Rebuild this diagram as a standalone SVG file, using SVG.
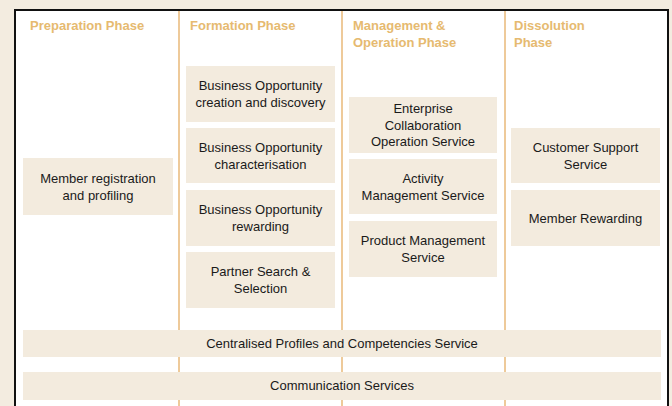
<svg xmlns="http://www.w3.org/2000/svg" width="672" height="406" viewBox="0 0 672 406">
<style>
.hdr{font-family:"Liberation Sans",Arial,sans-serif;font-size:13px;font-weight:bold;fill:#e6ba70}
.box{fill:#f3ebde}
.t{font-family:"Liberation Sans",Arial,sans-serif;font-size:13px;fill:#1a1a1a;text-anchor:middle}
.col{stroke:#e8b878;stroke-width:1.5}
</style>
<rect x="0" y="0" width="672" height="406" fill="#f3ece0"/>
<rect x="15" y="10" width="653" height="420" fill="#ffffff" stroke="#111" stroke-width="2"/>
<g id="connectors">
<line class="col" x1="179" y1="11" x2="179" y2="406"/>
<line class="col" x1="342" y1="11" x2="342" y2="406"/>
<line class="col" x1="505" y1="11" x2="505" y2="406"/>
</g>
<g id="headers">
<text class="hdr" x="30" y="30">Preparation Phase</text>
<text class="hdr" x="190" y="30">Formation Phase</text>
<text class="hdr" x="353" y="30">Management &amp;</text>
<text class="hdr" x="353" y="47">Operation Phase</text>
<text class="hdr" x="514" y="30">Dissolution</text>
<text class="hdr" x="514" y="47">Phase</text>
</g>
<g id="member-registration"><rect class="box" x="23" y="158" width="150" height="57"/><text class="t" x="98" y="183">Member registration</text><text class="t" x="98" y="200">and profiling</text></g>
<g id="bo-creation"><rect class="box" x="186" y="66" width="149" height="56"/><text class="t" x="260.5" y="90">Business Opportunity</text><text class="t" x="260.5" y="107">creation and discovery</text></g>
<g id="bo-characterisation"><rect class="box" x="186" y="128" width="149" height="55"/><text class="t" x="260.5" y="152">Business Opportunity</text><text class="t" x="260.5" y="169">characterisation</text></g>
<g id="bo-rewarding"><rect class="box" x="186" y="190" width="149" height="56"/><text class="t" x="260.5" y="214">Business Opportunity</text><text class="t" x="260.5" y="231">rewarding</text></g>
<g id="partner-search"><rect class="box" x="186" y="252" width="149" height="56"/><text class="t" x="260.5" y="276">Partner Search &amp;</text><text class="t" x="260.5" y="293">Selection</text></g>
<g id="enterprise-collab"><rect class="box" x="349" y="97" width="148" height="56"/><text class="t" x="423" y="113">Enterprise</text><text class="t" x="423" y="130">Collaboration</text><text class="t" x="423" y="146">Operation Service</text></g>
<g id="activity-mgmt"><rect class="box" x="349" y="159" width="148" height="55"/><text class="t" x="423" y="183">Activity</text><text class="t" x="423" y="200">Management Service</text></g>
<g id="product-mgmt"><rect class="box" x="349" y="221" width="148" height="56"/><text class="t" x="423" y="245">Product Management</text><text class="t" x="423" y="262">Service</text></g>
<g id="customer-support"><rect class="box" x="511" y="128" width="149" height="55"/><text class="t" x="585.5" y="152">Customer Support</text><text class="t" x="585.5" y="169">Service</text></g>
<g id="member-rewarding"><rect class="box" x="511" y="190" width="149" height="56"/><text class="t" x="585.5" y="223">Member Rewarding</text></g>
<g id="centralised-profiles"><rect class="box" x="23" y="330" width="638" height="27"/><text class="t" x="342" y="348">Centralised Profiles and Competencies Service</text></g>
<g id="communication"><rect class="box" x="23" y="372" width="638" height="28"/><text class="t" x="342" y="390">Communication Services</text></g>
</svg>
